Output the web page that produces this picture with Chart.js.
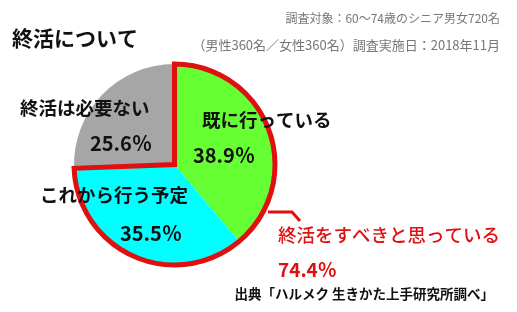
<!DOCTYPE html>
<html>
<head>
<meta charset="utf-8">
<script src="https://cdn.jsdelivr.net/npm/chart.js@4"></script>
<style>
  html, body { margin: 0; padding: 0; background: #fff; }
  #wrap { position: relative; width: 517px; height: 312px; }
</style>
</head>
<body>
<div id="wrap"><canvas id="endingChart" width="517" height="312"></canvas></div>
<script>
// 終活について
const categories = ['既に行っている', 'これから行う予定', '終活は必要ない'];
const shares = [38.9, 35.5, 25.6];
const sliceColors = ['#66FF33', '#00FFFF', '#A6A6A6'];
const totalLabel = '終活をすべきと思っている';
const totalValue = 74.4;

const titleText = '終活について';
const noteLines = ['調査対象：60～74歳のシニア男女720名', '（男性360名／女性360名）調査実施日：2018年11月'];
const sourceText = '出典「ハルメク 生きかた上手研究所調べ」';

const JP = '"Noto Sans CJK JP", "Noto Sans", sans-serif';
const RED = '#E01010';

// where each slice's label sits (name line, value line)
const labelSpots = [
    { x: 202, y: 120, vx: 193, vy: 155 },
    { x: 40,  y: 195, vx: 120, vy: 233 },
    { x: 20,  y: 108, vx: 90,  vy: 143 }
];

const annotate = {
    id: 'annotate',
    afterDatasetsDraw(chart) {
        const ctx = chart.ctx;
        const arcs = chart.getDatasetMeta(0).data;
        const a0 = arcs[0], a1 = arcs[1];

        // red outline around the first two slices together
        ctx.save();
        ctx.beginPath();
        ctx.moveTo(a0.x, a0.y);
        ctx.arc(a0.x, a0.y, a0.outerRadius, a0.startAngle, a1.endAngle);
        ctx.closePath();
        ctx.lineWidth = 5;
        ctx.lineJoin = 'miter';
        ctx.strokeStyle = RED;
        ctx.stroke();

        // leader
        ctx.beginPath();
        ctx.moveTo(268, 212);
        ctx.lineTo(292, 212);
        ctx.lineTo(300, 221);
        ctx.lineWidth = 3;
        ctx.stroke();
        ctx.restore();

        ctx.save();
        ctx.textBaseline = 'middle';
        ctx.textAlign = 'left';

        // slice labels
        categories.forEach((name, i) => {
            const s = labelSpots[i];
            ctx.fillStyle = '#111';
            ctx.font = 'bold 18.5px ' + JP;
            ctx.fillText(name, s.x, s.y);
            ctx.font = 'bold 20px ' + JP;
            ctx.fillText(shares[i].toFixed(1) + '％', s.vx, s.vy);
        });

        // title
        ctx.fillStyle = '#111';
        ctx.font = 'bold 21px ' + JP;
        ctx.fillText(titleText, 12, 38);

        // survey notes
        ctx.fillStyle = '#777';
        ctx.textAlign = 'right';
        ctx.font = '12px ' + JP;
        ctx.fillText(noteLines[0], 500, 18);
        ctx.font = '13px ' + JP;
        ctx.fillText(noteLines[1], 500, 45);

        // total annotation
        ctx.textAlign = 'left';
        ctx.fillStyle = RED;
        ctx.font = '500 18.5px ' + JP;
        ctx.fillText(totalLabel, 278, 235);
        ctx.font = 'bold 19px ' + JP;
        ctx.fillText(totalValue.toFixed(1) + '％', 278, 270);

        // source
        ctx.fillStyle = '#111';
        ctx.font = 'bold 13.5px ' + JP;
        ctx.textAlign = 'right';
        ctx.fillText(sourceText, 494, 294);
        ctx.restore();
    }
};

new Chart(document.getElementById('endingChart'), {
    type: 'pie',
    data: {
        labels: categories,
        datasets: [{
            data: shares,
            backgroundColor: sliceColors,
            borderWidth: 0
        }]
    },
    options: {
        responsive: false,
        animation: false,
        layout: { padding: { left: 74, right: 242, top: 64, bottom: 47 } },
        plugins: {
            legend: { display: false },
            tooltip: { enabled: false },
            title: { display: false }
        }
    },
    plugins: [annotate]
});
</script>
</body>
</html>
